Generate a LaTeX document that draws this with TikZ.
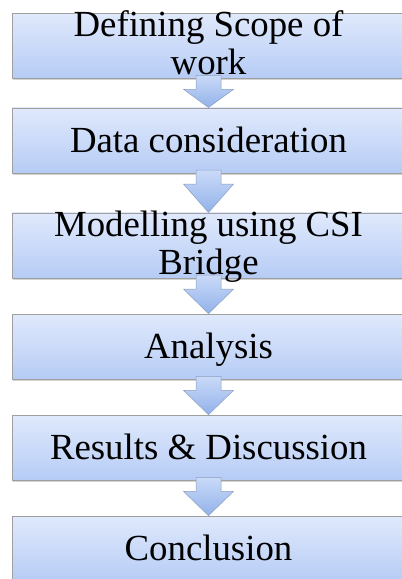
\documentclass[tikz,border=0pt]{standalone}
\usepackage{fontspec}
\setmainfont{Liberation Serif}
\usetikzlibrary{calc,shadows}
\definecolor{boxtop}{RGB}{224,233,252}
\definecolor{boxbottom}{RGB}{182,204,245}
\definecolor{arrowtop}{RGB}{202,218,248}
\definecolor{arrowbottom}{RGB}{146,178,234}
\definecolor{arrowline}{RGB}{140,158,190}
\tikzset{
  stepbox/.style={rectangle, draw=gray!75, line width=0.6pt, top color=boxtop, bottom color=boxbottom,
    minimum width=393pt, minimum height=65pt, inner sep=0pt, align=center,
    font=\fontsize{36.8}{37.5}\selectfont, text height=23.4pt, text depth=0pt,
    drop shadow={shadow xshift=0.8pt, shadow yshift=-2pt, opacity=0.35}},
  twoline/.style={text height=61pt, text depth=3.6pt},
  downarrow/.style={draw=arrowline, line width=0.5pt, top color=arrowtop, bottom color=arrowbottom}
}
\begin{document}
\begin{tikzpicture}[x=1pt,y=1pt]
        \useasboundingbox (0,0) rectangle (402,-579);
        %Steps
        \node[stepbox,twoline] (scope) at (208.5,-45.5) {Defining Scope of\\work};
        \node[stepbox] (data) at (208.5,-140.3) {Data consideration};
        \node[stepbox,twoline] (model) at (208.5,-245.3) {Modelling using CSI\\Bridge};
        \node[stepbox] (analysis) at (208.5,-346.5) {Analysis};
        \node[stepbox] (results) at (208.5,-447.5) {Results \& Discussion};
        \node[stepbox] (concl) at (208.5,-548.5) {Conclusion};
        %Block arrows
        \foreach \a/\b in {scope/data, data/model, model/analysis, analysis/results, results/concl}
          \draw[downarrow] ($(\a.south)+(-12.5,3)$) -- ++(0,-14) -- ++(-12.5,0) -- (\b.north)
            -- ($(\a.south)+(25,-11)$) -- ++(-12.5,0) -- ($(\a.south)+(12.5,3)$) -- cycle;
      \end{tikzpicture}
\end{document}
